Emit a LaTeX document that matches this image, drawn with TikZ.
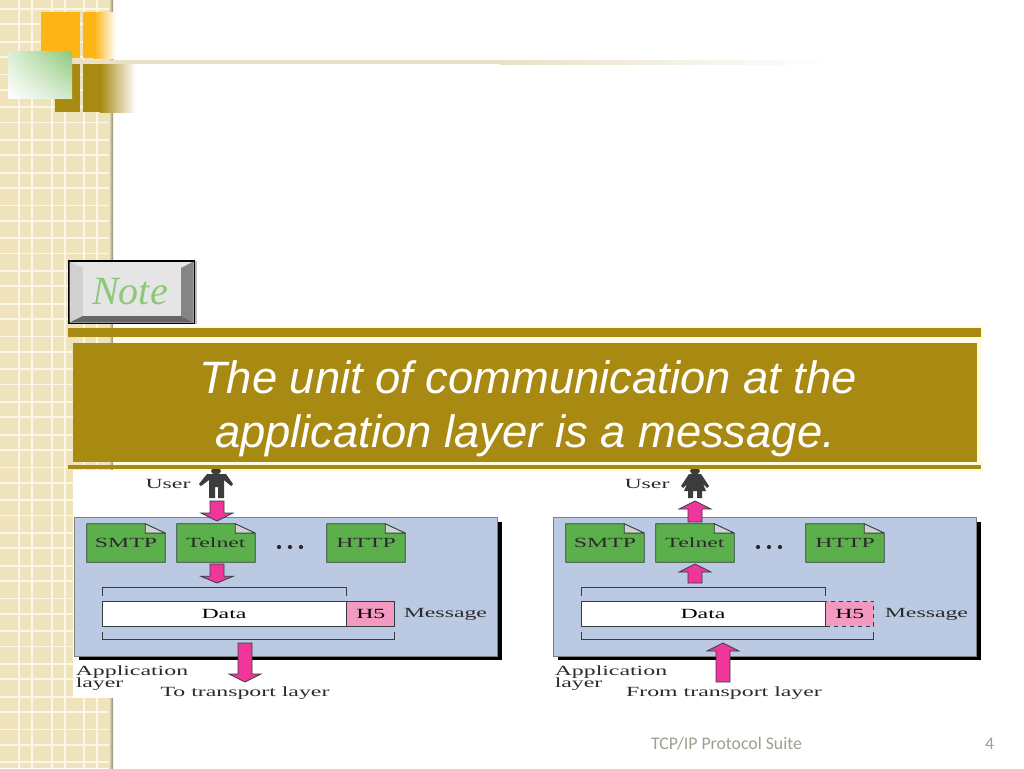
\documentclass[tikz,border=0pt]{standalone}
\usepackage{fontspec}
\usepackage{graphicx}
\setmainfont{Liberation Serif}
\newfontfamily\headfont{Liberation Sans}
\newfontfamily\footfont{Carlito}
\usetikzlibrary{calc,shadings}
\definecolor{tex}{HTML}{EFE3BB}
\definecolor{texline}{HTML}{FBF6E6}
\definecolor{gold}{HTML}{A88A13}
\definecolor{pale}{HTML}{FFFCE2}
\definecolor{orangeb}{HTML}{FDB515}
\definecolor{greenb}{HTML}{8CC878}
\definecolor{beigeb}{HTML}{E9E0C8}
\definecolor{panel}{HTML}{BCC9E2}
\definecolor{docg}{HTML}{5CB04C}
\definecolor{pinka}{HTML}{F0359B}
\definecolor{pinkb}{HTML}{F49AC2}
\definecolor{ink}{HTML}{2A2A2A}
\definecolor{person}{HTML}{3C3C3C}
\definecolor{outl}{HTML}{2F3F3F}
\definecolor{footc}{HTML}{A09F8C}
\newcommand{\dlab}[1]{\scalebox{1.7}[1]{\fontsize{10.5pt}{12pt}\selectfont #1}}
\newcommand{\fatarrow}[3]{\draw[fat] let \p1=(#1),\p2=(#2) in
  (\x1-5.25pt,\y1)--(\x1-5.25pt,\y2+#3)--(\x1-12pt,\y2+#3)--(\x2,\y2)--(\x1+12pt,\y2+#3)--(\x1+5.25pt,\y2+#3)--(\x1+5.25pt,\y1)--cycle;}
\newcommand{\docbox}[4]{%
  \node[docnode] (#1) at (#2,#3) {};
  \fill[docg] (#1.north west)--([xshift=-15pt]#1.north east)--([yshift=-7pt]#1.north east)--(#1.south east)--(#1.south west)--cycle;
  \fill[gray!35] ([xshift=-15pt]#1.north east)--([yshift=-7pt]#1.north east)--([xshift=-15pt,yshift=-7pt]#1.north east)--cycle;
  \draw[outl,line width=.7pt] ([xshift=-15pt]#1.north east)--(#1.north west)--(#1.south west)--(#1.south east)--([yshift=-7pt]#1.north east)--([xshift=-15pt]#1.north east)--([xshift=-15pt,yshift=-7pt]#1.north east)--([yshift=-7pt]#1.north east);
  \node[text=ink,anchor=base,inner sep=0pt] at ([yshift=-3.5pt]#1.center) {\dlab{#4}};}
\tikzset{
  fat/.style={fill=pinka,draw=outl,line width=.6pt,line join=miter},
  docnode/.style={minimum width=58.5pt,minimum height=28.5pt,inner sep=0pt,draw=none},
  lab/.style={text=ink,inner sep=0pt},
  bar/.style={fill=gold,draw=none},
  brk/.style={draw=outl,line width=.7pt},
  headl/.style={text=white,inner sep=0pt,anchor=base,font=\headfont\itshape\fontsize{34pt}{40pt}\selectfont},
  foot/.style={text=footc,inner sep=0pt,font=\footfont\fontsize{13.3pt}{15pt}\selectfont},
  dotn/.style={circle,fill=ink,inner sep=0pt,minimum size=3.2pt}
}
\begin{document}
\begin{tikzpicture}[x=0.75pt,y=-0.75pt]
\useasboundingbox (0,0) rectangle (1024,768);
\fill[white] (0,0) rectangle (1024,768);
% texture
\fill[tex] (0,0) rectangle (113,768);
\foreach \k in {0,...,23}{
  \fill[texline] (0,8+32.75*\k) rectangle (113,9.8+32.75*\k);
  \fill[texline] (0,23.4+32.75*\k) rectangle (113,25.2+32.75*\k);
}
\foreach \k in {0,1,2}{
  \fill[texline] (18.2+32.5*\k,0) rectangle (20+32.5*\k,768);
  \fill[texline] (31.4+32.5*\k,0) rectangle (33.2+32.5*\k,768);
}
\shade[left color=tex,right color=black!40!tex] (109,0) rectangle (113,768);
% corner ornament
\fill[orangeb] (41,12) rectangle (80,58);
\fill[orangeb] (83,12) rectangle (94,58);
\shade[left color=orangeb,right color=white] (94,12) rectangle (116,58);
\fill[gold] (55,63) rectangle (80,112);
\fill[gold] (83,63) rectangle (100,112);
\shade[left color=gold,right color=white] (100,63) rectangle (136,112);
\fill[beigeb] (50,60) rectangle (500,64);
\shade[left color=beigeb,right color=white] (500,60) rectangle (832,64);
\shade[lower left=white,upper right=greenb,lower right=white!60!greenb,upper left=white!70!greenb] (8,51) rectangle (72,98);
% note button
\fill[black!25] (195,261) rectangle (197,324);
\fill[black] (68,260) rectangle (195,324);
\fill[black!10] (69.5,261.5) rectangle (193.5,322.5);
\fill[black!18] (69.5,261.5)--(83,268)--(83,316)--(69.5,322.5)--cycle;
\fill[black!48] (193.5,261.5)--(181,268)--(181,316)--(193.5,322.5)--cycle;
\fill[black!60] (69.5,322.5)--(83,316)--(181,316)--(193.5,322.5)--cycle;
\fill[black!10] (83,268) rectangle (181,316);
\node[inner sep=0pt,text=greenb,font=\itshape\fontsize{30pt}{34pt}\selectfont] (note) at (130,292) {Note};
% image backing
\fill[white] (73,470) rectangle (505,698);
% gold band
\fill[pale] (113,326) rectangle (983,345);
\fill[pale] (113,460) rectangle (983,471);
\fill[pale] (975,340) rectangle (981,465);
\fill[bar] (68,328) rectangle (981,337);
\fill[bar] (73,343) rectangle (977,462);
\node[headl] (t1) at (528,393) {The unit of communication at the};
\node[headl] (t2) at (525,447) {application layer is a message.};
% LEFT PANEL
\fill[black] (79,522) rectangle (502,660);
\node[draw=gray,fill=panel,line width=.5pt,inner sep=0pt,minimum width=317pt,minimum height=104pt] (pl) at (286,586.5) {};
\node[lab] (ul) at (168,484) {\dlab{User}};
\fill[person] (216,471) ellipse (5 and 3.5);
\fill[person] (207,474)--(226,474)--(233,484)--(231,486)--(224,480)--(224,498)--(218,498)--(218,487)--(215,487)--(215,498)--(209,498)--(209,480)--(201,486)--(199,484)--cycle;
\docbox{sl}{126}{543}{SMTP}
\docbox{tl}{216}{543}{Telnet}
\docbox{hl}{366}{543}{HTTP}
\node[dotn] (d1a) at (279,547) {};
\node[dotn] (d1b) at (290,547) {};
\node[dotn] (d1c) at (301,547) {};
\draw[brk] (102,596)--(102,587)--(346,587)--(346,596);
\node[draw=outl,fill=white,line width=.6pt,inner sep=0pt,minimum width=183pt,minimum height=18.75pt] (dl) at (224,613.5) {\dlab{Data}};
\node[draw=outl,fill=pinkb,line width=.6pt,inner sep=0pt,minimum width=36pt,minimum height=18.75pt,anchor=west] (h5l) at (dl.east) {\dlab{H5}};
\draw[brk] (102,632)--(102,639)--(394,639)--(394,632);
\node[lab,anchor=west] (ml) at (403.5,614) {\dlab{Message}};
\node[lab,anchor=west] (al1) at (75.5,672) {\dlab{Application}};
\node[lab,anchor=west] (al2) at (75.5,684.5) {\dlab{layer}};
\node[lab] (tl2) at (245,693) {\dlab{To transport layer}};
\coordinate (a1) at (217,501);\coordinate (a1e) at (217,521);
\coordinate (a2) at (217,564);\coordinate (a2e) at (217,583);
\coordinate (a3) at (245,643);\coordinate (a3e) at (245,682);
\fatarrow{a1}{a1e}{6pt}
\fatarrow{a2}{a2e}{5pt}
\fatarrow{a3}{a3e}{6pt}
% RIGHT PANEL
\fill[black] (558,522) rectangle (981,660);
\node[draw=gray,fill=panel,line width=.5pt,inner sep=0pt,minimum width=317pt,minimum height=104pt] (pr) at (765,586.5) {};
\node[lab] (ur) at (647,484) {\dlab{User}};
\fill[person] (695,471) ellipse (5 and 3.5);
\fill[person] (689,474)--(701,474)--(709,486)--(707,488)--(703,484)--(706,491)--(702,491)--(702,498)--(697,498)--(697,491)--(693,491)--(693,498)--(688,498)--(688,491)--(684,491)--(687,484)--(683,488)--(681,486)--cycle;
\docbox{sr}{605}{543}{SMTP}
\docbox{tr}{695}{543}{Telnet}
\docbox{hr}{845}{543}{HTTP}
\node[dotn] (d2a) at (758,547) {};
\node[dotn] (d2b) at (769,547) {};
\node[dotn] (d2c) at (780,547) {};
\draw[brk] (581,596)--(581,587)--(825,587)--(825,596);
\node[draw=outl,fill=white,line width=.6pt,inner sep=0pt,minimum width=183pt,minimum height=18.75pt] (dr) at (703,613.5) {\dlab{Data}};
\node[draw=outl,dashed,fill=pinkb,line width=.6pt,inner sep=0pt,minimum width=36pt,minimum height=18.75pt,anchor=west] (h5r) at (dr.east) {\dlab{H5}};
\draw[brk] (581,632)--(581,639)--(873,639)--(873,632);
\node[lab,anchor=west] (mr) at (884.5,614) {\dlab{Message}};
\node[lab,anchor=west] (ar1) at (554.5,672) {\dlab{Application}};
\node[lab,anchor=west] (ar2) at (554.5,684.5) {\dlab{layer}};
\node[lab] (fr) at (724,693) {\dlab{From transport layer}};
\coordinate (b1) at (695,522);\coordinate (b1e) at (695,501);
\coordinate (b2) at (695,583);\coordinate (b2e) at (695,564);
\coordinate (b3) at (723,682);\coordinate (b3e) at (723,643);
\fatarrow{b1}{b1e}{-6pt}
\fatarrow{b2}{b2e}{-6pt}
\fatarrow{b3}{b3e}{-6pt}
% lower bar
\fill[bar] (68,465) rectangle (981,469);
% footer
\node[foot] (f1) at (726.5,744) {TCP/IP Protocol Suite};
\node[foot] (f2) at (989.5,744) {4};
\end{tikzpicture}
\end{document}
